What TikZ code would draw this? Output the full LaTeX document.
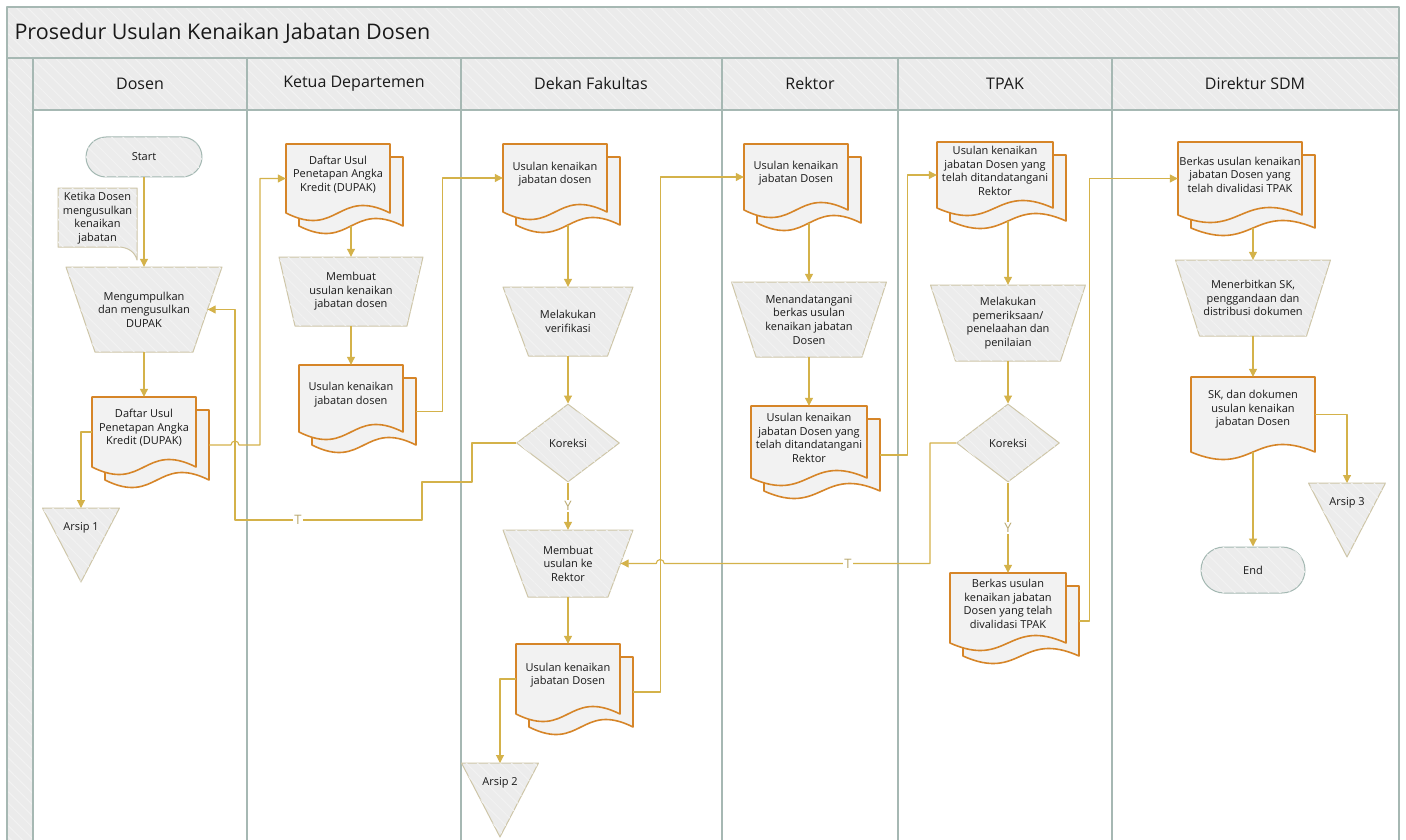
\documentclass[tikz,border=0pt]{standalone}
\usepackage{fontspec}
\setmainfont{Open Sans}
\usetikzlibrary{arrows.meta,calc,shapes.geometric,patterns.meta}

\definecolor{lanecol}{RGB}{166,184,179}
\definecolor{headcol}{RGB}{235,235,235}
\definecolor{stripecol}{RGB}{242,242,242}
\definecolor{shapefill}{RGB}{236,236,236}
\definecolor{shapeline}{RGB}{206,198,168}
\definecolor{doccol}{RGB}{214,133,40}
\definecolor{docfill}{RGB}{242,242,242}
\definecolor{linkcol}{RGB}{212,178,74}
\definecolor{lblcol}{RGB}{185,168,110}
\definecolor{termcol}{RGB}{163,184,178}
\definecolor{txtcol}{RGB}{25,25,25}

\tikzset{
  stripes/.style={postaction={pattern={Lines[angle=-45,distance=8pt,line width=1pt]},
    pattern color=stripecol}},
  nbox/.style={rectangle, draw=none, inner sep=0pt},
  txt/.style={align=center, text=txtcol, font=\fontsize{11}{13.6}\selectfont, inner sep=0pt},
  head/.style={text=txtcol, font=\fontsize{16}{19}\selectfont},
  procshape/.style={draw=shapeline, fill=shapefill, line width=1pt, stripes},
  docshape/.style={draw=doccol, fill=docfill, line width=1.6pt},
  term/.style={rectangle, draw=termcol, fill=shapefill, line width=1pt, stripes, txt},
  decision/.style={diamond, draw=shapeline, fill=shapefill, line width=1pt, stripes,
    minimum width=103, minimum height=78, txt},
  link/.style={draw=linkcol, line width=1.1pt, -{Triangle[length=8pt,width=8pt]}},
  lbl/.style={fill=white, text=lblcol, inner sep=1.5pt, font=\fontsize{13}{15}\selectfont},
}

% dokumen bertumpuk: [tinggi]{nama}{kiri}{atas}{lebar}{teks}
\newcommand{\docstack}[6][70]{%
  \draw[docshape] (#3+13,#4+13) -- ++(#5,0) -- ++(0,#1)
    .. controls +(-0.5*#5,-26) and +(0.5*#5,26) .. ++(-#5,0) -- cycle;
  \draw[docshape] (#3,#4) -- ++(#5,0) -- ++(0,#1)
    .. controls +(-0.5*#5,-26) and +(0.5*#5,26) .. ++(-#5,0) -- cycle;
  \node[nbox, minimum width=#5, minimum height=#1] (#2) at (#3+#5/2,#4+#1/2) {};
  \node[nbox, minimum width=#5, minimum height=#1] (#2b) at (#3+#5/2+13,#4+#1/2+13) {};
  \node[txt] (#2t) at ($(#2)+(0,-4)$) {#6};
}
% dokumen tunggal
\newcommand{\docone}[6][70]{%
  \draw[docshape] (#3,#4) -- ++(#5,0) -- ++(0,#1)
    .. controls +(-0.5*#5,-26) and +(0.5*#5,26) .. ++(-#5,0) -- cycle;
  \node[nbox, minimum width=#5, minimum height=#1] (#2) at (#3+#5/2,#4+#1/2) {};
  \node[txt] (#2t) at ($(#2)+(0,-5)$) {#6};
}
% proses (trapesium): {nama}{x}{atas}{lebar atas}{lebar bawah}{tinggi}{teks}
\newcommand{\procbox}[7]{%
  \draw[procshape] (#2-#4/2,#3) -- ++(#4,0) -- (#2+#5/2,#3+#6) -- (#2-#5/2,#3+#6) -- cycle;
  \node[nbox, txt, minimum width={(#4+#5)/2}, minimum height=#6] (#1) at (#2,#3+#6/2) {#7};
}
% arsip (segitiga terbalik)
\newcommand{\arsipbox}[4]{%
  \draw[procshape] (#2-38.5,#3) -- (#2+38.5,#3) -- (#2,#3+74) -- cycle;
  \node[nbox, txt, anchor=north, minimum height=40] (#1) at (#2,#3) {#4};
}

\begin{document}
\begin{tikzpicture}[x=1pt,y=-1pt,line join=round]
\useasboundingbox (0,0) rectangle (1406,840);
\fill[white] (0,0) rectangle (1406,840);
% kerangka swimlane
\fill[headcol, stripes] (7,7) rectangle (1399,58);
\fill[headcol, stripes] (7,58) rectangle (33,845);
\fill[headcol, stripes] (33,58) rectangle (1399,110);
\draw[lanecol, line width=1.5pt] (7,845) -- (7,7) -- (1399,7) -- (1399,845);
\draw[lanecol, line width=1.5pt] (7,58) -- (1399,58) (33,110) -- (1399,110);
\foreach \x in {33,247,461,722,898,1112}
  \draw[lanecol, line width=1.8pt] (\x,58) -- (\x,845);
\node[anchor=west, text=txtcol, font=\fontsize{21.5}{25}\selectfont] (title) at (11,33)
  {Prosedur Usulan Kenaikan Jabatan Dosen};
\foreach \x/\n [count=\i] in {140/Dosen, 354/Ketua Departemen, 591/Dekan Fakultas,
    810/Rektor, 1005/TPAK, 1255/Direktur SDM}
  \node[head] (lane\i) at (\x,84) {\n};

% Dosen
\node[term, minimum width=116, minimum height=40, rounded corners=20pt] (start) at (144,157) {Start};
\draw[procshape] (58,188) -- (137,188) -- (137,260) .. controls (135,252) and (128,247) .. (118,247)
  -- (58,247) -- cycle;
\node[txt] (note) at (97.5,218) {Ketika Dosen\\mengusulkan\\kenaikan\\jabatan};
\procbox{mg}{144}{267}{156}{98}{85}{Mengumpulkan\\dan mengusulkan\\DUPAK}
\docstack{dd}{92}{397}{104}{Daftar Usul\\Penetapan Angka\\Kredit (DUPAK)}
\arsipbox{a1}{81}{508}{Arsip 1}

% Ketua Departemen
\docstack[69]{k1}{286}{144}{104}{Daftar Usul\\Penetapan Angka\\Kredit (DUPAK)}
\procbox{mk}{351}{257}{144}{112}{69}{Membuat\\usulan kenaikan\\jabatan dosen}
\docstack[67]{k2}{299}{365}{104}{Usulan kenaikan\\jabatan dosen}

% Dekan Fakultas
\docstack[68]{f1}{503}{144}{104}{Usulan kenaikan\\jabatan dosen}
\procbox{fv}{568}{287}{130}{79}{69}{Melakukan\\verifikasi}
\node[decision] (kor1) at (568,443) {Koreksi};
\procbox{fr}{568}{530}{130}{80}{67}{Membuat\\usulan ke\\Rektor}
\docstack{f2}{516}{644}{104}{Usulan kenaikan\\jabatan Dosen}
\arsipbox{a2}{500}{763}{Arsip 2}

% Rektor
\docstack[66]{r1}{744}{144}{104}{Usulan kenaikan\\jabatan Dosen}
\procbox{rs}{809}{282}{155}{106}{75}{Menandatangani\\berkas usulan\\kenaikan jabatan\\Dosen}
\docstack[72]{r2}{751}{406}{116}{Usulan kenaikan\\jabatan Dosen yang\\telah ditandatangani\\Rektor}

% TPAK
\docstack[66]{t1}{937}{142}{116}{Usulan kenaikan\\jabatan Dosen yang\\telah ditandatangani\\Rektor}
\procbox{tp}{1008}{285}{155}{105}{76}{Melakukan\\pemeriksaan/\\penelaahan dan\\penilaian}
\node[decision] (kor2) at (1008,443) {Koreksi};
\docstack{t2}{950}{573}{116}{Berkas usulan\\kenaikan jabatan\\Dosen yang telah\\divalidasi TPAK}

% Direktur SDM
\docstack[73]{s1}{1178}{142}{124}{Berkas usulan kenaikan\\jabatan Dosen yang\\telah divalidasi TPAK}
\procbox{sm}{1253}{260}{155}{107}{76}{Menerbitkan SK,\\penggandaan dan\\distribusi dokumen}
\docone[75]{s2}{1191}{377}{124}{SK, dan dokumen\\usulan kenaikan\\jabatan Dosen}
\node[term, minimum width=104, minimum height=46, rounded corners=23pt] (end) at (1253,570) {End};
\arsipbox{a3}{1347}{483}{Arsip 3}

% alur
\coordinate (T1) at (235,520);
\draw[link] (start.south) -- (mg.north);
\draw[link] (mg.south) -- (dd.north);
\draw[link] (dd.west) -| (a1.north);
\draw[link] (ddb.east) -- ($(ddb.east -| T1)+(-4,0)$) arc[start angle=180,end angle=0,radius=4pt]
  -- ++(21,0) |- (k1.west);
\draw[link] (k1b.south) -- (mk.north);
\draw[link] (mk.south) -- (k2.north);
\draw[link] (k2b.east) -- ++(26,0) |- (f1.west);
\draw[link] (f1b.south) -- (fv.north);
\draw[link] (fv.south) -- (kor1.north);
\draw[link] (kor1.south) -- node[lbl] (y1) {Y} (fr.north);
\draw[link] (kor1.west) -- ++(-44,0) -- ++(0,39) -- ++(-50,0) |- (T1) |- (mg.east);
\node[lbl] (n1) at (298,520) {T};
\draw[link] (fr.south) -- (f2.north);
\draw[link] (f2.west) -| (a2.north);
\draw[link] (f2b.east) -- ++(27,0) |- (r1.west);
\draw[link] (r1b.south) -- (rs.north);
\draw[link] (rs.south) -- (r2.north);
\draw[link] (r2b.east) -- ++(27,0) |- (t1.west);
\draw[link] (t1b.south) -- (tp.north);
\draw[link] (tp.south) -- (kor2.north);
\draw[link] (kor2.south) -- node[lbl] (y2) {Y} (t2.north);
\draw[link] (kor2.west) -- ++(-26,0) |- ($(fr.east -| f2b.east)+(31,0)$)
  arc[start angle=0,end angle=180,radius=4pt] -- (fr.east);
\node[lbl] (n2) at (848,563.5) {T};
\draw[link] (t2b.east) -- ++(10,0) |- (s1.west);
\draw[link] (s1b.south) -- (sm.north);
\draw[link] (sm.south) -- (s2.north);
\draw[link] (s2.south) -- (end.north);
\draw[link] (s2.east) -| (a3.north);
\end{tikzpicture}
\end{document}
